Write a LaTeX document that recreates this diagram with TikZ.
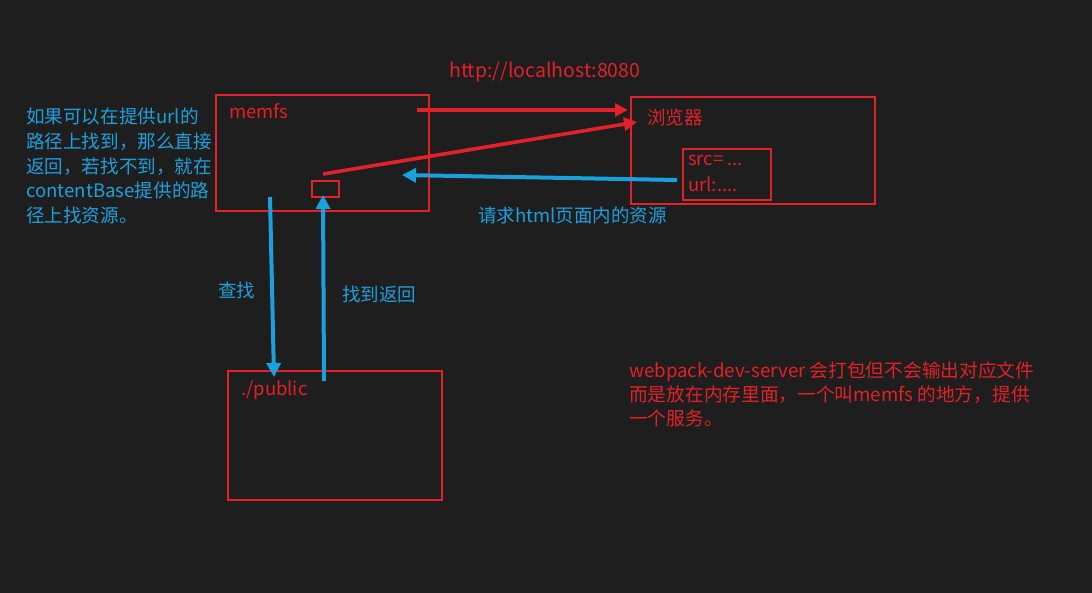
\documentclass[tikz,border=0pt]{standalone}
\usepackage{fontspec}
\setmainfont{Noto Sans CJK SC}
\usetikzlibrary{arrows.meta}
\definecolor{bg}{RGB}{30,30,30}
\definecolor{rd}{RGB}{228,32,40}
\definecolor{bl}{RGB}{27,160,222}
\tikzset{
  box/.style={draw=rd,line width=1.8pt,inner sep=0pt},
  rtxt/.style={text=rd,inner sep=0pt,anchor=west,font=\fontsize{18.5}{22}\selectfont},
  btxt/.style={text=bl,inner sep=0pt,anchor=west,font=\fontsize{18.5}{22}\selectfont},
  rarr/.style={draw=rd,line width=3.6pt,-{Triangle[length=13pt,width=13pt]}},
  barr/.style={draw=bl,line width=4pt,-{Triangle[length=14pt,width=14pt]}},
}
\begin{document}
\begin{tikzpicture}[x=1pt,y=-1pt]
\fill[bg] (0,0) rectangle (1092,593);
\useasboundingbox (0,0) rectangle (1092,593);
% boxes
\node[box,minimum width=213pt,minimum height=116pt,anchor=north west] (memfs) at (215,94) {};
\node[box,minimum width=27pt,minimum height=16pt,anchor=north west] (small) at (311,180) {};
\node[box,minimum width=244pt,minimum height=107pt,anchor=north west] (browser) at (630,96) {};
\node[box,minimum width=88pt,minimum height=51pt,anchor=north west] (src) at (682,148) {};
\node[box,minimum width=214pt,minimum height=129pt,anchor=north west] (public) at (227,370) {};
% labels
\node[rtxt] (lmemfs) at (229,111) {memfs};
\node[rtxt] (lbrowser) at (647,117) {浏览器};
\node[rtxt] (lsrc) at (688,160) {src= ...};
\node[rtxt] (lurl) at (688,184) {url:....};
\node[rtxt] (lpublic) at (241,390) {./public};
\node[rtxt,font=\fontsize{19.5}{22}\selectfont] (lhttp) at (449,72) {http://localhost:8080};
\node[btxt] (lfind) at (218,290) {查找};
\node[btxt] (lret) at (342,294) {找到返回};
\node[btxt] (lreq) at (478,215) {请求html页面内的资源};
\node[btxt,anchor=north west,align=left,font=\fontsize{18.6}{24.6}\selectfont] (lleft) at (26,108)
  {如果可以在提供url的\\路径上找到，那么直接\\返回，若找不到，就在\\contentBase提供的路\\径上找资源。};
\node[rtxt,anchor=north west,align=left,font=\fontsize{18.7}{24}\selectfont] (lnote) at (629,361)
  {webpack-dev-server 会打包但不会输出对应文件\\而是放在内存里面，一个叫memfs 的地方，提供\\一个服务。};
% connector ends
\coordinate (a1s) at (417,110);
\coordinate (a1e) at (628,110);
\coordinate (a2s) at (323,174);
\coordinate (a2e) at (637,122);
\coordinate (a3s) at (677,180);
\coordinate (a3e) at (402,175);
\coordinate (a4s) at (270,197);
\coordinate (a4e) at (274,377);
\coordinate (a5s) at (324,381);
\coordinate (a5e) at (323,195);
\draw[rarr] (a1s) -- (a1e);
\draw[rarr] (a2s) -- (a2e);
\draw[barr] (a3s) -- (a3e);
\draw[barr] (a4s) -- (a4e);
\draw[barr] (a5s) -- (a5e);
\end{tikzpicture}
\end{document}
